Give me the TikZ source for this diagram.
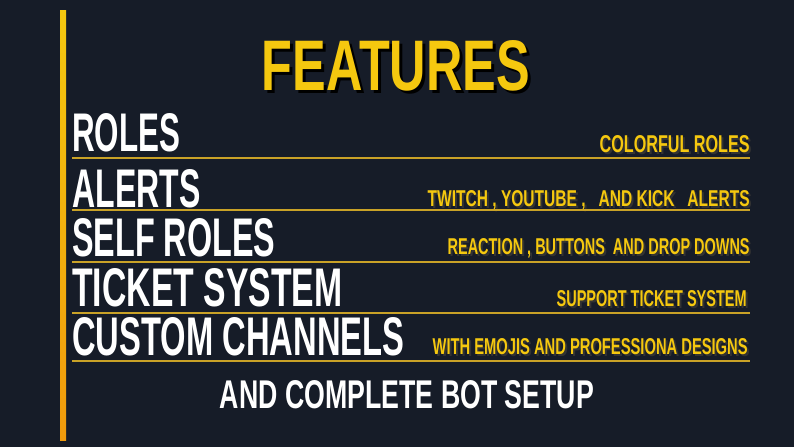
\documentclass[tikz,border=0pt]{standalone}
\usepackage{fontspec}
\usepackage{graphicx}
\setmainfont{Liberation Sans}
\usetikzlibrary{positioning}
\definecolor{navybg}{HTML}{161C28}
\definecolor{goldline}{HTML}{C9A227}
\definecolor{featyellow}{HTML}{F5C80F}
\definecolor{featorange}{HTML}{F09A0C}
\newcommand{\squeeze}[3]{\resizebox{\dimexpr 0.02cm*#1\relax}{\dimexpr 0.02cm*#2\relax}{\bfseries #3}}

\begin{document}
\begin{tikzpicture}[x=0.02cm, y=-0.02cm,
    lefttxt/.style={anchor=base west, inner sep=0pt, text=white},
    righttxt/.style={anchor=base east, inner sep=0pt, text=featyellow},
    shadowtxt/.style={anchor=base east, inner sep=0pt, text=black!80}]
        \fill [navybg] (0, 0) rectangle (794, 447);
        \shade [top color=featyellow, bottom color=featorange] (60, 10) rectangle (66, 440);

        % title
        \node [anchor=base, inner sep=0pt, text=black] (Tshadow) at (399, 93) {\squeeze{268}{50}{FEATURES}};
        \node [anchor=base, inner sep=0pt, text=featyellow] (Title) at (396, 90) {\squeeze{268}{50}{FEATURES}};

        % rows
        \node [lefttxt] (Roles) at (72, 151) {\squeeze{108}{38}{ROLES}};
        \node [lefttxt] (Alerts) at (72, 207) {\squeeze{128}{38}{ALERTS}};
        \node [lefttxt] (Self) at (72, 256) {\squeeze{203}{38}{SELF ROLES}};
        \node [lefttxt] (Ticket) at (72, 306) {\squeeze{270}{38}{TICKET SYSTEM}};
        \node [lefttxt] (Custom) at (72, 355) {\squeeze{332}{38}{CUSTOM CHANNELS}};

        \node [shadowtxt] at (752, 154) {\squeeze{150}{17}{COLORFUL ROLES}};
        \node [righttxt] (Rroles) at (750, 152) {\squeeze{150}{17}{COLORFUL ROLES}};
        \node [shadowtxt] at (752, 208) {\squeeze{322}{16}{TWITCH , YOUTUBE , \ \ AND KICK \ \ ALERTS}};
        \node [righttxt] (Ralerts) at (750, 206) {\squeeze{322}{16}{TWITCH , YOUTUBE , \ \ AND KICK \ \ ALERTS}};
        \node [shadowtxt] at (752, 256) {\squeeze{302}{16}{REACTION , BUTTONS \ AND DROP DOWNS}};
        \node [righttxt] (Rself) at (750, 254) {\squeeze{302}{16}{REACTION , BUTTONS \ AND DROP DOWNS}};
        \node [shadowtxt] at (749, 308) {\squeeze{190}{16}{SUPPORT TICKET SYSTEM}};
        \node [righttxt] (Rticket) at (747, 306) {\squeeze{190}{16}{SUPPORT TICKET SYSTEM}};
        \node [shadowtxt] at (750, 356) {\squeeze{315}{16}{WITH EMOJIS AND PROFESSIONA DESIGNS}};
        \node [righttxt] (Rcustom) at (748, 354) {\squeeze{315}{16}{WITH EMOJIS AND PROFESSIONA DESIGNS}};

        % rules
        \foreach \ly in {158, 210, 262, 313, 361}
            \draw [goldline, line width=1.2pt] (72, \ly) -- (750, \ly);

        \node [anchor=base, inner sep=0pt, text=white] (Bottom) at (407, 408) {\squeeze{374}{28}{AND COMPLETE BOT SETUP}};
\end{tikzpicture}
\end{document}
